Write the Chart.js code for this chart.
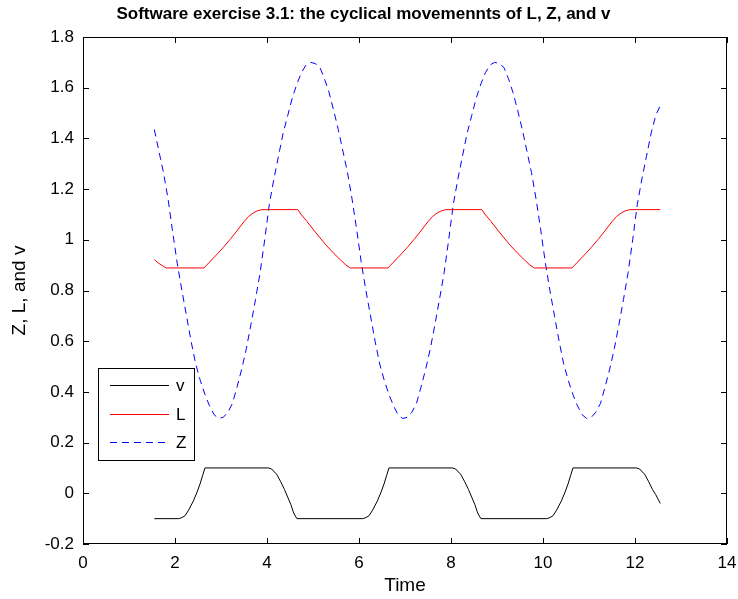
<!DOCTYPE html>
<html>
<head>
<meta charset="utf-8">
<script src="https://cdn.jsdelivr.net/npm/chart.js@4.4.0/dist/chart.umd.min.js"></script>
<style>
  html, body { margin: 0; padding: 0; background: #fff; }
</style>
</head>
<body>
<canvas id="cycleChart" width="738" height="599"></canvas>
<script>
// Z: sampled every 0.1 time units
const zTime = [
  1.55, 1.65, 1.75, 1.85, 1.95, 2.05, 2.15, 2.25, 2.35, 2.45,
  2.55, 2.65, 2.75, 2.85, 2.95, 3.05, 3.15, 3.25, 3.35, 3.45,
  3.55, 3.65, 3.75, 3.85, 3.95, 4.05, 4.15, 4.25, 4.35, 4.45,
  4.55, 4.65, 4.75, 4.85, 4.95, 5.05, 5.15, 5.25, 5.35, 5.45,
  5.55, 5.65, 5.75, 5.85, 5.95, 6.05, 6.15, 6.25, 6.35, 6.45,
  6.55, 6.65, 6.75, 6.85, 6.95, 7.05, 7.15, 7.25, 7.35, 7.45,
  7.55, 7.65, 7.75, 7.85, 7.95, 8.05, 8.15, 8.25, 8.35, 8.45,
  8.55, 8.65, 8.75, 8.85, 8.95, 9.05, 9.15, 9.25, 9.35, 9.45,
  9.55, 9.65, 9.75, 9.85, 9.95, 10.05, 10.15, 10.25, 10.35, 10.45,
  10.55, 10.65, 10.75, 10.85, 10.95, 11.05, 11.15, 11.25, 11.35, 11.45,
  11.55, 11.65, 11.75, 11.85, 11.95, 12.05, 12.15, 12.25, 12.35, 12.45,
  12.55
];
const zValues = [
  1.435, 1.35, 1.265, 1.16, 1.03, 0.905, 0.80, 0.70, 0.60, 0.51,
  0.445, 0.39, 0.345, 0.31, 0.295, 0.30, 0.32, 0.355, 0.42, 0.49,
  0.57, 0.665, 0.765, 0.87, 1.0, 1.14, 1.24, 1.33, 1.42, 1.49,
  1.56, 1.615, 1.66, 1.69, 1.70, 1.695, 1.68, 1.635, 1.58, 1.51,
  1.435, 1.35, 1.265, 1.16, 1.04, 0.91, 0.80, 0.70, 0.60, 0.51,
  0.445, 0.39, 0.345, 0.31, 0.295, 0.30, 0.32, 0.355, 0.42, 0.49,
  0.57, 0.665, 0.765, 0.87, 1.0, 1.14, 1.24, 1.33, 1.42, 1.49,
  1.56, 1.615, 1.66, 1.69, 1.70, 1.695, 1.68, 1.635, 1.58, 1.51,
  1.435, 1.35, 1.265, 1.16, 1.04, 0.91, 0.80, 0.70, 0.60, 0.51,
  0.445, 0.39, 0.345, 0.31, 0.295, 0.30, 0.32, 0.355, 0.42, 0.49,
  0.57, 0.665, 0.765, 0.87, 1.0, 1.14, 1.24, 1.33, 1.42, 1.49,
  1.53
];

// L: plateaus joined by ramps
const lTime = [
  1.55, 1.65, 1.75, 1.81,
  2.63, 2.75, 2.9, 3.05, 3.2, 3.35, 3.5, 3.6, 3.7, 3.8, 3.89,
  4.67, 4.75, 4.87, 5.0, 5.15, 5.3, 5.45, 5.6, 5.7, 5.81,
  6.63, 6.75, 6.9, 7.05, 7.2, 7.35, 7.5, 7.6, 7.7, 7.8, 7.89,
  8.67, 8.75, 8.87, 9.0, 9.15, 9.3, 9.45, 9.6, 9.7, 9.81,
  10.63, 10.75, 10.9, 11.05, 11.2, 11.35, 11.5, 11.6, 11.7, 11.8, 11.89,
  12.55
];
const lValues = [
  0.922, 0.907, 0.895, 0.889,
  0.889, 0.912, 0.94, 0.97, 1.002, 1.036, 1.072, 1.092, 1.106, 1.115, 1.119,
  1.119, 1.098, 1.072, 1.042, 1.008, 0.976, 0.947, 0.92, 0.903, 0.889,
  0.889, 0.912, 0.94, 0.97, 1.002, 1.036, 1.072, 1.092, 1.106, 1.115, 1.119,
  1.119, 1.098, 1.072, 1.042, 1.008, 0.976, 0.947, 0.92, 0.903, 0.889,
  0.889, 0.912, 0.94, 0.97, 1.002, 1.036, 1.072, 1.092, 1.106, 1.115, 1.119,
  1.119
];

// v: switches between -0.1 and 0.1
const vTime = [
  1.55, 2.08, 2.15, 2.22, 2.3, 2.4, 2.48, 2.55, 2.6, 2.65,
  4.03, 4.1, 4.21, 4.3, 4.38, 4.45, 4.52, 4.58, 4.65,
  6.08, 6.15, 6.22, 6.3, 6.4, 6.48, 6.55, 6.6, 6.65,
  8.03, 8.1, 8.21, 8.3, 8.38, 8.45, 8.52, 8.58, 8.65,
  10.08, 10.15, 10.22, 10.3, 10.4, 10.48, 10.55, 10.6, 10.65,
  12.03, 12.1, 12.21, 12.3, 12.38, 12.45, 12.55
];
const vValues = [
  -0.1, -0.1, -0.096, -0.088, -0.065, -0.03, 0.005, 0.04, 0.07, 0.1,
  0.1, 0.096, 0.075, 0.045, 0.015, -0.015, -0.045, -0.078, -0.1,
  -0.1, -0.096, -0.088, -0.065, -0.03, 0.005, 0.04, 0.07, 0.1,
  0.1, 0.096, 0.075, 0.045, 0.015, -0.015, -0.045, -0.078, -0.1,
  -0.1, -0.096, -0.088, -0.065, -0.03, 0.005, 0.04, 0.07, 0.1,
  0.1, 0.096, 0.075, 0.045, 0.015, -0.005, -0.04
];

const xTicks = [0, 2, 4, 6, 8, 10, 12, 14];
const yTicks = [-0.2, 0, 0.2, 0.4, 0.6, 0.8, 1, 1.2, 1.4, 1.6, 1.8];

const pairs = (xs, ys) => xs.map((x, i) => ({ x: x, y: ys[i] }));

// box around the axes, inward tick marks, legend in the lower left
const boxPlugin = {
  id: 'box',
  afterDatasetsDraw(chart) {
    const { ctx, chartArea: a, scales: { x, y } } = chart;
    const tl = 6;
    ctx.save();
    ctx.strokeStyle = '#000';
    ctx.lineWidth = 1;
    ctx.beginPath();
    x.ticks.forEach(t => {
      const px = Math.round(x.getPixelForValue(t.value)) + 0.5;
      ctx.moveTo(px, a.bottom); ctx.lineTo(px, a.bottom - tl);
      ctx.moveTo(px, a.top); ctx.lineTo(px, a.top + tl);
    });
    y.ticks.forEach(t => {
      const py = Math.round(y.getPixelForValue(t.value)) + 0.5;
      ctx.moveTo(a.left, py); ctx.lineTo(a.left + tl, py);
      ctx.moveTo(a.right, py); ctx.lineTo(a.right - tl, py);
    });
    ctx.stroke();
    ctx.strokeRect(a.left + 0.5, a.top + 0.5, a.right - a.left - 1, a.bottom - a.top - 1);

    // legend
    const lx = a.left + 15, ly = a.top + 331, lw = 96, lh = 92;
    ctx.fillStyle = '#fff';
    ctx.fillRect(lx, ly, lw, lh);
    ctx.strokeRect(lx + 0.5, ly + 0.5, lw, lh);
    ctx.font = '17px "Liberation Sans", Arial, sans-serif';
    ctx.textBaseline = 'middle';
    chart.data.datasets.forEach((ds, i) => {
      const ry = Math.round(ly + 17 + i * 28.5) + 0.5;
      ctx.beginPath();
      ctx.strokeStyle = ds.borderColor;
      ctx.setLineDash(ds.borderDash || []);
      ctx.moveTo(lx + 12, ry);
      ctx.lineTo(lx + 71, ry);
      ctx.stroke();
      ctx.setLineDash([]);
      ctx.fillStyle = '#000';
      ctx.fillText(ds.label, lx + 78, ry + 1);
    });
    ctx.restore();
  }
};

Chart.defaults.font.family = '"Liberation Sans", Arial, sans-serif';
Chart.defaults.font.size = 17;
Chart.defaults.color = '#000';

new Chart(document.getElementById('cycleChart'), {
  type: 'line',
  data: {
    datasets: [
      {
        label: 'v',
        data: pairs(vTime, vValues),
        borderColor: '#000000',
        borderWidth: 1
      },
      {
        label: 'L',
        data: pairs(lTime, lValues),
        borderColor: '#ff0000',
        borderWidth: 1
      },
      {
        label: 'Z',
        data: pairs(zTime, zValues),
        borderColor: '#0000ff',
        borderWidth: 1,
        borderDash: [7, 5]
      }
    ]
  },
  options: {
    responsive: false,
    animation: false,
    devicePixelRatio: 1,
    elements: { point: { radius: 0 }, line: { tension: 0 } },
    layout: { padding: { top: 0, right: 11, bottom: 0, left: 0 } },
    plugins: {
      legend: { display: false },
      tooltip: { enabled: false },
      title: {
        display: true,
        text: 'Software exercise 3.1: the cyclical movemennts of L, Z, and v',
        font: { size: 17, weight: 'bold' },
        padding: { top: 4, bottom: 12.6 }
      }
    },
    scales: {
      x: {
        type: 'linear',
        min: 0,
        max: 14,
        afterBuildTicks: s => { s.ticks = xTicks.map(v => ({ value: v })); },
        afterFit: s => { s.height = 55; s.paddingLeft = 0; s.paddingRight = 0; },
        grid: { display: false, drawTicks: false },
        border: { display: false },
        ticks: { padding: 9, maxRotation: 0 },
        title: { display: true, text: 'Time', font: { size: 19 }, padding: { top: 2, bottom: 2 } }
      },
      y: {
        type: 'linear',
        min: -0.2,
        max: 1.8,
        afterBuildTicks: s => { s.ticks = yTicks.map(v => ({ value: v })); },
        afterFit: s => { s.width = 83; s.paddingTop = 0; s.paddingBottom = 0; },
        grid: { display: false, drawTicks: false },
        border: { display: false },
        ticks: { padding: 9, callback: v => String(Number(v.toFixed(1))) },
        title: { display: true, text: 'Z, L, and v', font: { size: 19 }, padding: { top: 8, bottom: 0 } }
      }
    }
  },
  plugins: [boxPlugin]
});
</script>
</body>
</html>
